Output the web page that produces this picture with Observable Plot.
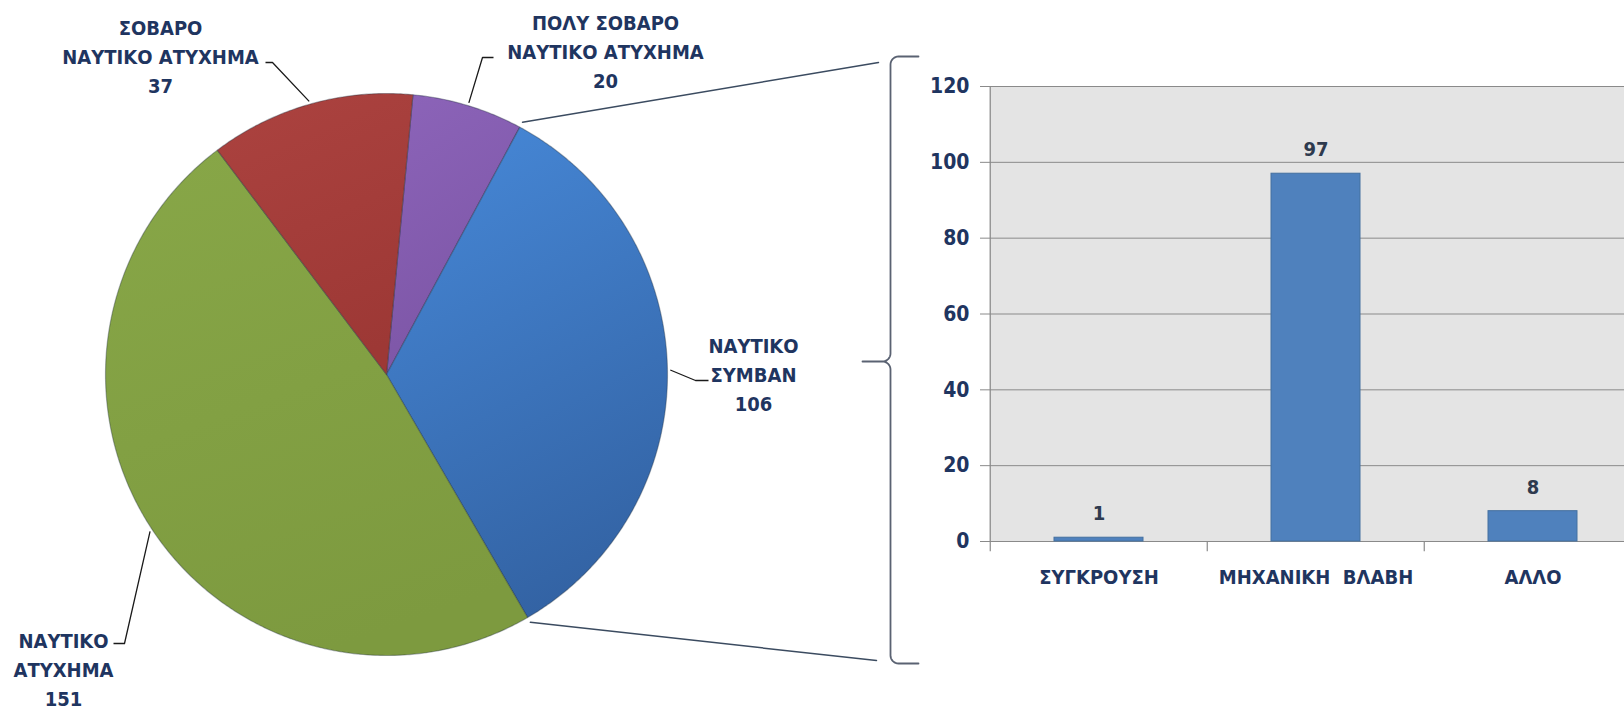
<!DOCTYPE html>
<html>
<head>
<meta charset="utf-8">
<script src="https://cdn.jsdelivr.net/npm/d3@7"></script>
<script src="https://cdn.jsdelivr.net/npm/@observablehq/plot@0.6"></script>
<style>
  html, body { margin: 0; padding: 0; background: #ffffff; }
  #chart { position: relative; width: 1624px; height: 711px; overflow: hidden; }
  #chart svg { position: absolute; top: 0; background: none; }
</style>
</head>
<body>
<div id="chart"></div>
<script>
// ---------------- data ----------------
const pieCategories = ["ΠΟΛΥ ΣΟΒΑΡΟ\nΝΑΥΤΙΚΟ ΑΤΥΧΗΜΑ", "ΝΑΥΤΙΚΟ\nΣΥΜΒΑΝ", "ΝΑΥΤΙΚΟ\nΑΤΥΧΗΜΑ", "ΣΟΒΑΡΟ\nΝΑΥΤΙΚΟ ΑΤΥΧΗΜΑ"];
const pieValues = [20, 106, 151, 37];
const barCategories = ["ΣΥΓΚΡΟΥΣΗ", "ΜΗΧΑΝΙΚΗ\u00a0 ΒΛΑΒΗ", "ΑΛΛΟ"];
const barValues = [1, 97, 8];
const yTicks = [0, 20, 40, 60, 80, 100, 120];

// ---------------- layout & style ----------------
const W = 1624, H = 711;
const FONT = '"DejaVu Sans Condensed", "DejaVu Sans", sans-serif';
const TEXT = "#1f3560";
const pieGradients = [["#8b63b8", "#7c55a5"], ["#4687d6", "#3363a4"], ["#87a647", "#7d9a3f"], ["#ab423f", "#9d3835"]];
const pieGeom = {cx: 386, cy: 374, r: 281, startDeg: 5.4};
const labelLayout = [
  {x: 605, y: 49.5, elbow: [482, 57], end: [493, 57]},
  {x: 753, y: 372, elbow: [695, 380], end: [708, 380]},
  {x: 63, y: 667, elbow: [124, 643], end: [113, 643]},
  {x: 160, y: 54, elbow: [272, 62], end: [265, 62]}
];
const connectorEnds = {top: [878, 62], bottom: [876, 660]};
const bracket = {x: 890, top: 56, bottom: 663, mid: 361, tipX: 918, cuspX: 862, rad: 8};
const bar = {left: 880, axisX: 989, top: 86, zeroY: 541, step: 217.5, barW: 89};

// px <-> pie units
const ux = px => (px - pieGeom.cx) / pieGeom.r;
const uy = py => (pieGeom.cy - py) / pieGeom.r;

// ---------------- pie (units: radius = 1) ----------------
const pieRows = pieCategories.map((k, i) => ({key: k, value: pieValues[i]}));
const a0 = pieGeom.startDeg * Math.PI / 180;
const arcs = d3.pie().sort(null).value(d => d.value).startAngle(a0).endAngle(a0 + 2 * Math.PI)(pieRows);
const pt = (t, rho) => ({x: rho * Math.sin(t), y: rho * Math.cos(t)});

const slicePts = arcs.flatMap(a => {
  const n = Math.max(2, Math.ceil((a.endAngle - a.startAngle) / (Math.PI / 360)));
  const out = [{key: a.data.key, x: 0, y: 0}];
  for (let k = 0; k <= n; k++) {
    const t = a.startAngle + (a.endAngle - a.startAngle) * k / n;
    out.push({key: a.data.key, ...pt(t, 1)});
  }
  out.push({key: a.data.key, x: 0, y: 0});
  return out;
});

const leaderPts = arcs.flatMap((a, i) => {
  const mid = (a.startAngle + a.endAngle) / 2;
  const L = labelLayout[i];
  return [
    {key: i, ...pt(mid, 1.01)},
    {key: i, x: ux(L.elbow[0]), y: uy(L.elbow[1])},
    {key: i, x: ux(L.end[0]), y: uy(L.end[1])}
  ];
});

const labelRows = arcs.map((a, i) => ({
  text: a.data.key + "\n" + a.data.value,
  x: ux(labelLayout[i].x),
  y: uy(labelLayout[i].y)
}));

// connectors: from the slice boundaries of the exploded category (ΝΑΥΤΙΚΟ ΣΥΜΒΑΝ) to the bracket
const blue = arcs[1];
const connectorPts = [
  {key: "t", ...pt(blue.startAngle, 1.02)}, {key: "t", x: ux(connectorEnds.top[0]), y: uy(connectorEnds.top[1])},
  {key: "b", ...pt(blue.endAngle, 1.02)}, {key: "b", x: ux(connectorEnds.bottom[0]), y: uy(connectorEnds.bottom[1])}
];

// curly bracket geometry (px) -> units
function quarter(cx, cy, r, t0, t1, n = 8) {
  const o = [];
  for (let k = 0; k <= n; k++) { const t = t0 + (t1 - t0) * k / n; o.push([cx + r * Math.cos(t), cy + r * Math.sin(t)]); }
  return o;
}
const B = bracket, R = B.rad, P = Math.PI;
const bracketPx = [
  [B.tipX, B.top],
  ...quarter(B.x + R, B.top + R, R, -P / 2, -P),
  ...quarter(B.x - R, B.mid - R, R, 0, P / 2),
  [B.cuspX, B.mid],
  ...quarter(B.x - R, B.mid + R, R, -P / 2, 0),
  ...quarter(B.x + R, B.bottom - R, R, P, P / 2),
  [B.tipX, B.bottom]
];
const bracketPts = bracketPx.map(([x, y]) => ({x: ux(x), y: uy(y)}));

const pieSvg = Plot.plot({
  width: W, height: H,
  margin: 0,
  x: {domain: [ux(0), ux(W)], range: [0, W], axis: null},
  y: {domain: [uy(H), uy(0)], range: [H, 0], axis: null},
  color: {type: "ordinal", domain: pieCategories, range: pieCategories.map((_, i) => `url(#pieGrad${i})`)},
  style: {fontFamily: FONT, fontStretch: "condensed", background: "none", overflow: "visible"},
  marks: [
    Plot.line(slicePts, {x: "x", y: "y", z: "key", fill: "key", stroke: "#1e2a3a", strokeOpacity: 0.35, strokeWidth: 1.2, curve: "linear"}),
    Plot.line(leaderPts, {x: "x", y: "y", z: "key", stroke: "#1a1a1a", strokeWidth: 1.3, curve: "linear", strokeLinecap: "butt"}),
    Plot.line(connectorPts, {x: "x", y: "y", z: "key", stroke: "#3b4b60", strokeWidth: 1.5, curve: "linear"}),
    Plot.line(bracketPts, {x: "x", y: "y", stroke: "#5a6272", strokeWidth: 1.8, curve: "linear"}),
    Plot.text(labelRows, {x: "x", y: "y", text: "text", fontSize: 20, fontWeight: "bold", lineHeight: 1.45, fill: TEXT, textAnchor: "middle"})
  ]
});

const defs = d3.select(pieSvg).insert("defs", ":first-child");
pieGradients.forEach((c, i) => {
  const g = defs.append("linearGradient").attr("id", "pieGrad" + i)
    .attr("x1", 0.2).attr("y1", 0).attr("x2", 0.5).attr("y2", 1);
  g.append("stop").attr("offset", 0).attr("stop-color", c[0]);
  g.append("stop").attr("offset", 1).attr("stop-color", c[1]);
});

// ---------------- bar chart ----------------
const barRows = barCategories.map((c, i) => ({cat: c, value: barValues[i]}));
const bw = W - bar.left;
const ml = bar.axisX - bar.left;
const padIn = 1 - bar.barW / bar.step;
const barSvg = Plot.plot({
  width: bw, height: H,
  marginLeft: ml, marginRight: 0, marginTop: bar.top, marginBottom: H - bar.zeroY,
  x: {domain: barCategories, range: [ml, ml + bar.step * barCategories.length], paddingInner: padIn, paddingOuter: padIn / 2, align: 0.5},
  y: {domain: [0, 120]},
  style: {fontFamily: FONT, fontStretch: "condensed", fontSize: "20px", fontWeight: "bold", color: TEXT, background: "none"},
  marks: [
    Plot.frame({fill: "#e4e4e4", stroke: null}),
    Plot.gridY(yTicks.slice(1), {stroke: "#8a8a8a", strokeOpacity: 1, strokeWidth: 1}),
    Plot.ruleY([0], {stroke: "#8a8a8a", strokeWidth: 1.2}),
    Plot.ruleX(barCategories, {x: d => d, dx: -bar.step / 2, y1: -2.7, y2: 0, stroke: "#8a8a8a", strokeWidth: 1.2}),
    Plot.ruleX(barCategories.slice(0, 1), {x: d => d, dx: -bar.step / 2, y1: 0, y2: 120, stroke: "#8a8a8a", strokeWidth: 1.2}),
    Plot.barY(barRows, {x: "cat", y: "value", fill: "#4f81bd", stroke: "#44709f", strokeWidth: 1}),
    Plot.text(barRows, {x: "cat", y: "value", text: d => String(d.value), dy: -24, fontSize: 20, fontWeight: "bold", fill: "#2e3a4e"}),
    Plot.axisY(yTicks, {tickSize: 9, tickPadding: 11, stroke: "#8a8a8a", fill: TEXT, fontSize: 21, fontWeight: "bold", label: null}),
    Plot.axisX({tickSize: 0, tickPadding: 28, fill: TEXT, fontSize: 20, fontWeight: "bold", label: null})
  ]
});
barSvg.style.left = bar.left + "px";

const chart = document.getElementById("chart");
chart.appendChild(barSvg);
pieSvg.style.left = "0px";
chart.appendChild(pieSvg);
</script>
</body>
</html>
